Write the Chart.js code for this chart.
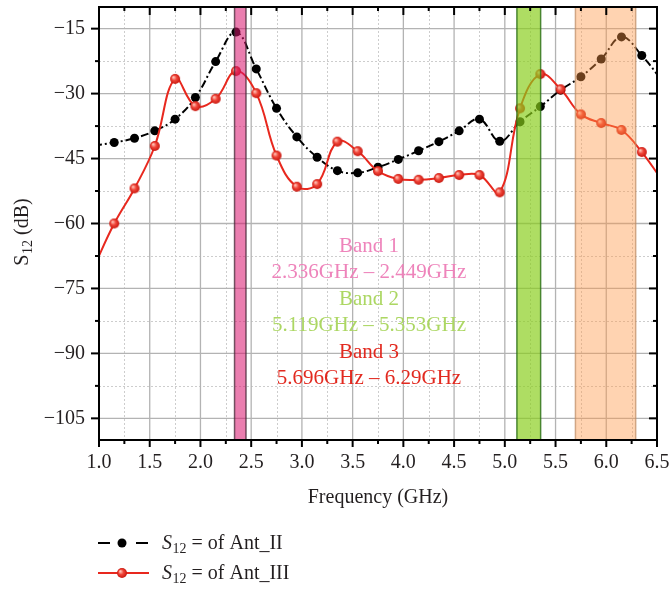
<!DOCTYPE html>
<html>
<head>
<meta charset="utf-8">
<title>S12 vs Frequency</title>
<script src="https://cdn.jsdelivr.net/npm/chart.js@4.4.1/dist/chart.umd.min.js"></script>
<style>
    html, body { margin: 0; padding: 0; background: #fff; }
    canvas { display: block; }
</style>
</head>
<body>
<canvas id="s12Chart" width="669" height="590"></canvas>
<script>
// Measured S12 samples (GHz, dB)
const freqGHz = [0.95, 1.15, 1.35, 1.55, 1.75, 1.95, 2.15, 2.35, 2.55, 2.75, 2.95, 3.15, 3.35, 3.55, 3.75,
                 3.95, 4.15, 4.35, 4.55, 4.75, 4.95, 5.15, 5.35, 5.55, 5.75, 5.95, 6.15, 6.35, 6.55];
const antIIdB = [-42.0, -41.3, -40.3, -38.6, -35.9, -30.9, -22.6, -15.8, -24.3, -33.4, -40.0, -44.7, -47.8, -48.3, -47.0,
                 -45.2, -43.2, -41.1, -38.6, -35.9, -41.0, -36.5, -33.0, -29.2, -26.1, -22.0, -16.9, -21.2, -27.0];
const antIIIdB = [-70.0, -60.0, -51.9, -42.1, -26.6, -32.9, -31.2, -24.8, -29.9, -44.3, -51.5, -50.9, -41.1, -43.3, -47.9,
                  -49.7, -49.9, -49.5, -48.8, -48.8, -52.8, -33.4, -25.5, -29.0, -34.8, -36.8, -38.4, -43.5, -50.0];
const seriesNames = ['Ant_II', 'Ant_III'];

const xTicks = [1.0, 1.5, 2.0, 2.5, 3.0, 3.5, 4.0, 4.5, 5.0, 5.5, 6.0, 6.5];
const yTicks = [-105, -90, -75, -60, -45, -30, -15];

const bandNames = ['Band 1', 'Band 2', 'Band 3'];
const bandStart = [2.336, 5.119, 5.696];
const bandEnd = [2.449, 5.353, 6.29];

(function() {
    'use strict';

    const SERIF = '"Liberation Serif", "DejaVu Serif", serif';
    const RED = '#e8281e';
    const TEXT = '#231f20';

    const bandStyle = [
        { fill: 'rgba(216, 20, 110, 0.55)', edge: 'rgba(70, 40, 55, 0.75)', text: '#ee84bb' },
        { fill: 'rgba(135, 205, 25, 0.68)', edge: 'rgba(40, 110, 20, 0.8)', text: '#acd763' },
        { fill: 'rgba(255, 150, 70, 0.42)', edge: 'rgba(190, 140, 100, 0.7)', text: '#e2291f' }
    ];

    // shaded sphere used as the Ant_III marker
    function makeBall(r) {
        const c = document.createElement('canvas');
        c.width = c.height = r * 2 + 2;
        const g = c.getContext('2d');
        const cx = r + 1, cy = r + 1;
        const grad = g.createRadialGradient(cx - r * 0.35, cy - r * 0.35, 0.5, cx, cy, r);
        grad.addColorStop(0, '#ffc0b4');
        grad.addColorStop(0.45, '#f0463a');
        grad.addColorStop(1, '#c8160e');
        g.fillStyle = grad;
        g.beginPath();
        g.arc(cx, cy, r, 0, Math.PI * 2);
        g.fill();
        return c;
    }
    const redBall = makeBall(5);

    const toPoints = ys => freqGHz.map((f, i) => ({ x: f, y: ys[i] }));

    function midpoints(arr) {
        const out = [];
        for (let i = 0; i < arr.length - 1; i++) out.push((arr[i] + arr[i + 1]) / 2);
        return out;
    }

    // S with a "12" subscript followed by more text
    function drawS12(ctx, x, y, tail, italicS) {
        ctx.textBaseline = 'alphabetic';
        ctx.textAlign = 'left';
        ctx.font = (italicS ? 'italic ' : '') + '20px ' + SERIF;
        ctx.fillText('S', x, y);
        x += ctx.measureText('S').width + 0.5;
        ctx.font = '14px ' + SERIF;
        ctx.fillText('12', x, y + 4);
        x += ctx.measureText('12').width;
        ctx.font = '20px ' + SERIF;
        ctx.fillText(tail, x, y);
    }

    function s12Width(ctx, tail, italicS) {
        ctx.font = (italicS ? 'italic ' : '') + '20px ' + SERIF;
        let w = ctx.measureText('S').width + 0.5;
        ctx.font = '14px ' + SERIF;
        w += ctx.measureText('12').width;
        ctx.font = '20px ' + SERIF;
        return w + ctx.measureText(tail).width;
    }

    const decorPlugin = {
        id: 'decor',
        beforeDatasetsDraw(chart) {
            const { ctx, chartArea: a, scales: { x, y } } = chart;
            ctx.save();
            // minor grid (dashed)
            ctx.strokeStyle = '#cdcdcd';
            ctx.lineWidth = 1;
            ctx.setLineDash([2, 2]);
            midpoints(xTicks).forEach(v => {
                const px = Math.round(x.getPixelForValue(v)) + 0.5;
                ctx.beginPath(); ctx.moveTo(px, a.top); ctx.lineTo(px, a.bottom); ctx.stroke();
            });
            midpoints(yTicks).forEach(v => {
                const py = Math.round(y.getPixelForValue(v)) + 0.5;
                ctx.beginPath(); ctx.moveTo(a.left, py); ctx.lineTo(a.right, py); ctx.stroke();
            });
            // major grid
            ctx.setLineDash([]);
            ctx.strokeStyle = '#b3b3b3';
            ctx.lineWidth = 1.3;
            xTicks.forEach(v => {
                const px = x.getPixelForValue(v);
                ctx.beginPath(); ctx.moveTo(px, a.top); ctx.lineTo(px, a.bottom); ctx.stroke();
            });
            yTicks.forEach(v => {
                const py = y.getPixelForValue(v);
                ctx.beginPath(); ctx.moveTo(a.left, py); ctx.lineTo(a.right, py); ctx.stroke();
            });
            ctx.restore();
        },
        afterDatasetsDraw(chart) {
            const { ctx, chartArea: a, scales: { x, y } } = chart;
            ctx.save();

            // frequency bands, laid over the curves
            bandStart.forEach((s, i) => {
                const x0 = x.getPixelForValue(s);
                const x1 = x.getPixelForValue(bandEnd[i]);
                ctx.fillStyle = bandStyle[i].fill;
                ctx.fillRect(x0, a.top, x1 - x0, a.bottom - a.top);
                ctx.strokeStyle = bandStyle[i].edge;
                ctx.lineWidth = 1.5;
                ctx.beginPath();
                ctx.moveTo(x0, a.top); ctx.lineTo(x0, a.bottom);
                ctx.moveTo(x1, a.top); ctx.lineTo(x1, a.bottom);
                ctx.stroke();
            });

            // frame
            ctx.strokeStyle = '#000';
            ctx.lineWidth = 2;
            ctx.strokeRect(a.left, a.top, a.right - a.left, a.bottom - a.top);

            // ticks: outward on bottom/left, inward on top/right
            ctx.lineWidth = 2;
            const xMinor = midpoints(xTicks);
            const yMinor = midpoints(yTicks);
            const tick = (x0, y0, x1, y1) => { ctx.beginPath(); ctx.moveTo(x0, y0); ctx.lineTo(x1, y1); ctx.stroke(); };
            xTicks.forEach(v => {
                const px = x.getPixelForValue(v);
                tick(px, a.bottom, px, a.bottom + 7);
                tick(px, a.top, px, a.top + 8);
            });
            xMinor.forEach(v => {
                const px = x.getPixelForValue(v);
                tick(px, a.bottom, px, a.bottom + 4);
                tick(px, a.top, px, a.top + 4);
            });
            yTicks.forEach(v => {
                const py = y.getPixelForValue(v);
                tick(a.left, py, a.left - 8, py);
                tick(a.right, py, a.right - 8, py);
            });
            yMinor.forEach(v => {
                const py = y.getPixelForValue(v);
                tick(a.left, py, a.left - 4, py);
                tick(a.right, py, a.right - 4, py);
            });

            // band annotations
            ctx.textAlign = 'center';
            ctx.textBaseline = 'middle';
            ctx.font = '21px ' + SERIF;
            const cx = 369;
            bandNames.forEach((name, i) => {
                const top = 246 + i * 53;
                ctx.fillStyle = bandStyle[i].text;
                ctx.fillText(name, cx, top);
                ctx.fillText(bandStart[i] + 'GHz \u2013 ' + bandEnd[i] + 'GHz', cx, top + 26);
            });

            // y axis title
            ctx.fillStyle = TEXT;
            ctx.save();
            ctx.translate(28, 232);
            ctx.rotate(-Math.PI / 2);
            const w = s12Width(ctx, ' (dB)', false);
            drawS12(ctx, -w / 2, 0, ' (dB)', false);
            ctx.restore();

            // x axis title
            ctx.textAlign = 'center';
            ctx.textBaseline = 'middle';
            ctx.font = '20px ' + SERIF;
            ctx.fillText('Frequency (GHz)', (a.left + a.right) / 2, 498);

            // legend
            const ds = chart.data.datasets;
            const rows = [543, 573];
            rows.forEach((ly, i) => {
                const d = ds[i];
                ctx.strokeStyle = d.borderColor;
                ctx.lineWidth = 2;
                if (d.borderDash) {
                    ctx.setLineDash([]);
                    tick(98, ly, 110, ly);
                    tick(136, ly, 148, ly);
                    ctx.fillStyle = '#000';
                    ctx.beginPath(); ctx.arc(122, ly, 4.5, 0, Math.PI * 2); ctx.fill();
                } else {
                    ctx.setLineDash([]);
                    tick(98, ly, 149, ly);
                    ctx.drawImage(redBall, 122 - redBall.width / 2, ly - redBall.height / 2);
                }
                ctx.fillStyle = TEXT;
                drawS12(ctx, 162, ly + 6, ' = of ' + d.label, true);
            });

            ctx.restore();
        }
    };

    new Chart(document.getElementById('s12Chart'), {
        type: 'line',
        data: {
            datasets: [
                {
                    label: seriesNames[0],
                    data: toPoints(antIIdB),
                    borderColor: '#000',
                    borderWidth: 2,
                    borderDash: [8, 3, 2, 3],
                    pointStyle: 'circle',
                    pointRadius: 4.5,
                    pointBackgroundColor: '#000',
                    pointBorderWidth: 0,
                    tension: 0.4,
                    clip: 0,
                    order: 2
                },
                {
                    label: seriesNames[1],
                    data: toPoints(antIIIdB),
                    borderColor: RED,
                    borderWidth: 2,
                    pointStyle: redBall,
                    pointRadius: 5,
                    tension: 0.4,
                    clip: 0,
                    order: 1
                }
            ]
        },
        options: {
            responsive: false,
            animation: false,
            devicePixelRatio: 1,
            events: [],
            layout: { padding: { top: 7, right: 12, left: 0, bottom: 0 } },
            plugins: {
                legend: { display: false },
                tooltip: { enabled: false }
            },
            scales: {
                x: {
                    type: 'linear',
                    min: 1,
                    max: 6.5,
                    afterBuildTicks: s => { s.ticks = xTicks.map(v => ({ value: v })); },
                    afterFit: s => { s.height = 150; s.paddingLeft = 0; s.paddingRight = 0; },
                    grid: { display: false, drawTicks: false },
                    border: { display: false },
                    ticks: {
                        padding: 11,
                        maxRotation: 0,
                        autoSkip: false,
                        color: TEXT,
                        font: { family: SERIF, size: 20 },
                        callback: v => Number(v).toFixed(1)
                    }
                },
                y: {
                    min: -110,
                    max: -10,
                    afterBuildTicks: s => { s.ticks = yTicks.map(v => ({ value: v })); },
                    afterFit: s => { s.width = 99; s.paddingTop = 0; s.paddingBottom = 0; },
                    grid: { display: false, drawTicks: false },
                    border: { display: false },
                    ticks: {
                        padding: 14,
                        autoSkip: false,
                        color: TEXT,
                        font: { family: SERIF, size: 20 },
                        callback: v => String(v).replace('-', '\u2212')
                    }
                }
            }
        },
        plugins: [decorPlugin]
    });
})();
</script>
</body>
</html>
